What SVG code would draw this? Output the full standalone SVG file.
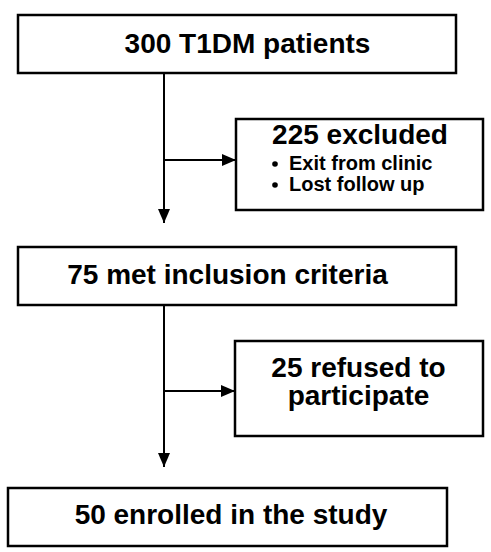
<svg xmlns="http://www.w3.org/2000/svg" width="491" height="552" viewBox="0 0 491 552">
<defs>
<style>
.box{fill:#fff;stroke:#000;stroke-width:2.5}
.t{font-family:"Liberation Sans",Arial,Helvetica,sans-serif;font-weight:bold;fill:#000}
.big{font-size:28px}
.small{font-size:20px}
.line{stroke:#000;stroke-width:2;fill:none}
</style>
<marker id="arr" viewBox="0 0 14 12" refX="14" refY="6" markerWidth="14" markerHeight="12" markerUnits="userSpaceOnUse" orient="auto">
<path d="M0,0 L14,6 L0,12 Z" fill="#000"/>
</marker>
</defs>
<rect width="491" height="552" fill="#fff"/>
<g id="connectors">
<line class="line" x1="164" y1="73" x2="164" y2="223" marker-end="url(#arr)"/>
<line class="line" x1="164" y1="160" x2="236" y2="160" marker-end="url(#arr)"/>
<line class="line" x1="164" y1="305" x2="164" y2="467" marker-end="url(#arr)"/>
<line class="line" x1="164" y1="391" x2="235" y2="391" marker-end="url(#arr)"/>
</g>
<g id="n1">
<rect class="box" x="18" y="15" width="438" height="58"/>
<text class="t big" x="247.5" y="53" text-anchor="middle">300 T1DM patients</text>
</g>
<g id="n2">
<rect class="box" x="236" y="119" width="247" height="91"/>
<text class="t big" x="360" y="144" text-anchor="middle">225 excluded</text>
<circle cx="275" cy="164" r="2.8" fill="#000"/>
<text class="t small" x="289" y="170">Exit from clinic</text>
<circle cx="275" cy="185" r="2.8" fill="#000"/>
<text class="t small" x="289" y="191">Lost follow up</text>
</g>
<g id="n3">
<rect class="box" x="18" y="247" width="438" height="58"/>
<text class="t big" x="227.5" y="284" text-anchor="middle">75 met inclusion criteria</text>
</g>
<g id="n4">
<rect class="box" x="235" y="341" width="248" height="95"/>
<text class="t big" text-anchor="middle"><tspan x="358.5" y="377">25 refused to</tspan><tspan x="358.5" y="405">participate</tspan></text>
</g>
<g id="n5">
<rect class="box" x="8" y="488" width="439" height="58"/>
<text class="t big" x="231" y="524" text-anchor="middle">50 enrolled in the study</text>
</g>
</svg>
